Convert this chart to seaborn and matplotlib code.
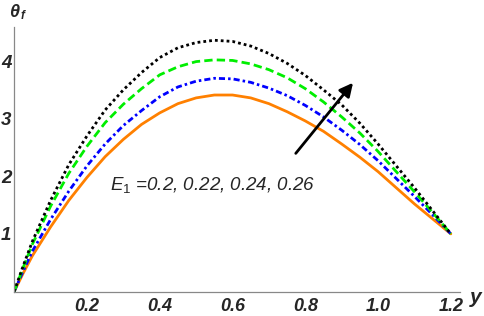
import numpy as np
import pandas as pd
import seaborn as sns
import matplotlib.pyplot as plt
from matplotlib.ticker import MultipleLocator

# values
y_pos = [0, 0.025, 0.05, 0.1, 0.15, 0.2, 0.25, 0.3, 0.35, 0.4, 0.45, 0.5, 0.55,
         0.6, 0.65, 0.7, 0.75, 0.8, 0.85, 0.9, 0.95, 1.0, 1.05, 1.1, 1.15, 1.2]
theta_020 = [0, 0.32, 0.62, 1.12, 1.58, 1.98, 2.34, 2.64, 2.90, 3.10, 3.26, 3.36, 3.41,
             3.41, 3.36, 3.26, 3.12, 2.96, 2.78, 2.56, 2.33, 2.08, 1.80, 1.52, 1.26, 1.0]
theta_022 = [0, 0.36, 0.70, 1.25, 1.74, 2.18, 2.56, 2.88, 3.14, 3.38, 3.55, 3.65, 3.70,
             3.69, 3.63, 3.53, 3.40, 3.23, 3.03, 2.80, 2.55, 2.27, 1.96, 1.65, 1.33, 1.0]
theta_024 = [0, 0.42, 0.82, 1.48, 2.05, 2.52, 2.93, 3.25, 3.52, 3.76, 3.90, 3.99, 4.02,
             4.01, 3.95, 3.85, 3.71, 3.52, 3.29, 3.03, 2.75, 2.43, 2.08, 1.73, 1.37, 1.0]
theta_026 = [0, 0.45, 0.87, 1.58, 2.20, 2.70, 3.15, 3.50, 3.80, 4.06, 4.23, 4.32, 4.36,
             4.34, 4.26, 4.13, 3.96, 3.75, 3.50, 3.24, 2.92, 2.56, 2.18, 1.80, 1.40, 1.0]
x_ticks = [0.2, 0.4, 0.6, 0.8, 1.0, 1.2]
y_ticks = [1, 2, 3, 4]

sns.set_style("white")
plt.rcParams['font.family'] = ['Liberation Sans', 'DejaVu Sans']
plt.rcParams['mathtext.fontset'] = 'custom'
plt.rcParams['mathtext.it'] = 'Liberation Sans:italic'
plt.rcParams['mathtext.rm'] = 'Liberation Sans'

fig = plt.figure(figsize=(4.84, 3.16), dpi=100)
ax = fig.add_axes([0.0293, 0.0775, 0.921, 0.837])

# orange solid, blue dash-dot, green dashed, black dotted
sns.lineplot(x=y_pos, y=theta_020, ax=ax, color='#FF8000', lw=2, linestyle='-')
sns.lineplot(x=y_pos, y=theta_022, ax=ax, color='#0000FF', lw=2,
             linestyle=(0, (2.2, 1.1, 0.9, 1.1)))
sns.lineplot(x=y_pos, y=theta_024, ax=ax, color='#00EE00', lw=2, linestyle=(0, (3, 1.5)))
sns.lineplot(x=y_pos, y=theta_026, ax=ax, color='black', lw=2, linestyle=(0, (1, 1.1)))

ax.set_xlim(0, 1.225)
ax.set_ylim(0, 4.59)

for s in ['top', 'right']:
    ax.spines[s].set_visible(False)
for s in ['left', 'bottom']:
    ax.spines[s].set_color('#888888')
    ax.spines[s].set_linewidth(0.9)

ax.xaxis.set_minor_locator(MultipleLocator(0.05))
ax.yaxis.set_minor_locator(MultipleLocator(0.2))
ax.tick_params(axis='x', which='major', direction='out', length=4, color='#888888', pad=1)
ax.tick_params(axis='x', which='minor', direction='out', length=2.5, color='#888888')
ax.tick_params(axis='y', which='major', direction='in', length=5, color='#888888', pad=2)
ax.tick_params(axis='y', which='minor', direction='in', length=3, color='#888888')

ax.set_xticks(x_ticks)
ax.set_xticklabels(['0.2', '0.4', '0.6', '0.8', '1.0', '1.2'],
                   fontsize=13, fontweight='bold', fontstyle='italic')
ax.set_yticks(y_ticks)
ax.set_yticklabels(['1', '2', '3', '4'], fontsize=13.5, fontweight='bold', fontstyle='italic')
ax.xaxis.set_minor_locator(MultipleLocator(0.05))

# axis labels placed like Mathematica's AxesLabel
fig.text(0.03, 0.962, '\u03b8', fontsize=13, fontweight='bold', fontstyle='italic',
         ha='center', va='center')
fig.text(0.047, 0.948, 'f', fontsize=8.5, fontweight='bold', fontstyle='italic',
         ha='center', va='center')
fig.text(0.983, 0.058, 'y', fontsize=15, fontweight='bold', fontstyle='italic',
         ha='center', va='center')

ax.text(0.262, 1.84, r'$E_1$ =0.2, 0.22, 0.24, 0.26', fontsize=13.5, fontstyle='italic',
        ha='left', va='center')

ax.annotate('', xy=(0.936, 3.66), xytext=(0.769, 2.36),
            arrowprops=dict(arrowstyle='-|>', color='black', lw=2, mutation_scale=20))

ax.set_xlabel('')
ax.set_ylabel('')
fig.savefig('out.png', dpi=100)
